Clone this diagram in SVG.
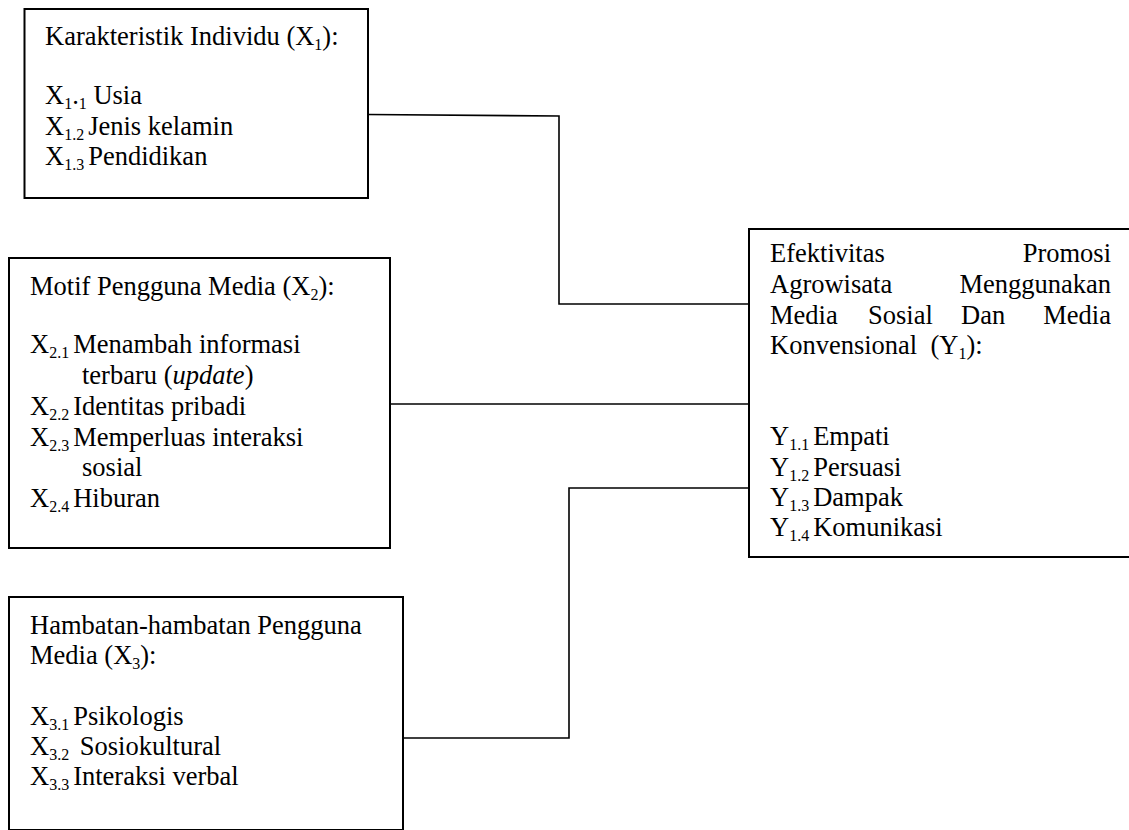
<svg xmlns="http://www.w3.org/2000/svg" width="1129" height="830" viewBox="0 0 1129 830">
<style>
.box{fill:#fff;stroke:#000;stroke-width:2}
.conn{fill:none;stroke:#000;stroke-width:1.6}
text{font-family:"Liberation Serif","Times New Roman",serif;font-size:26.5px;fill:#000}
.s{font-size:16px}
</style>
<rect width="1129" height="830" fill="#fff"/>
<g id="connectors">
<polyline class="conn" points="368,114.5 559,116 559,304 749,304"/>
<line class="conn" x1="390" y1="404" x2="749" y2="404"/>
<polyline class="conn" points="403,738 569,738 569,488 749,488"/>
</g>
<g id="x1">
<rect class="box" x="24.5" y="9" width="343.5" height="189"/>
<text x="45" y="45">Karakteristik Individu (X<tspan class="s" dy="5">1</tspan><tspan dy="-5">):</tspan></text>
<text x="45" y="104">X<tspan class="s" dy="5">1</tspan><tspan dy="-5">.</tspan><tspan class="s" dy="5">1</tspan><tspan dy="-5"> Usia</tspan></text>
<text x="45" y="135">X<tspan class="s" dy="5">1.2 </tspan><tspan dy="-5">Jenis kelamin</tspan></text>
<text x="45" y="165">X<tspan class="s" dy="5">1.3 </tspan><tspan dy="-5">Pendidikan</tspan></text>
</g>
<g id="x2">
<rect class="box" x="9" y="258" width="381" height="290"/>
<text x="30" y="295">Motif Pengguna Media (X<tspan class="s" dy="5">2</tspan><tspan dy="-5">):</tspan></text>
<text x="30" y="353">X<tspan class="s" dy="5">2.1 </tspan><tspan dy="-5">Menambah informasi</tspan></text>
<text x="82" y="384">terbaru (<tspan font-style="italic">update</tspan>)</text>
<text x="30" y="415">X<tspan class="s" dy="5">2.2 </tspan><tspan dy="-5">Identitas pribadi</tspan></text>
<text x="30" y="446">X<tspan class="s" dy="5">2.3 </tspan><tspan dy="-5">Memperluas interaksi</tspan></text>
<text x="82" y="476">sosial</text>
<text x="30" y="507">X<tspan class="s" dy="5">2.4 </tspan><tspan dy="-5">Hiburan</tspan></text>
</g>
<g id="x3">
<rect class="box" x="9" y="597" width="394" height="233"/>
<text x="30" y="634">Hambatan-hambatan Pengguna</text>
<text x="30" y="664">Media (X<tspan class="s" dy="5">3</tspan><tspan dy="-5">):</tspan></text>
<text x="30" y="725">X<tspan class="s" dy="5">3.1 </tspan><tspan dy="-5">Psikologis</tspan></text>
<text x="30" y="755">X<tspan class="s" dy="5">3.2 </tspan><tspan dy="-5">&#160;Sosiokultural</tspan></text>
<text x="30" y="785">X<tspan class="s" dy="5">3.3 </tspan><tspan dy="-5">Interaksi verbal</tspan></text>
</g>
<g id="y1">
<rect class="box" x="749" y="229" width="390" height="328"/>
<text x="770" y="262">Efektivitas</text>
<text x="1111" y="262" text-anchor="end">Promosi</text>
<text x="770" y="293">Agrowisata</text>
<text x="1111" y="293" text-anchor="end">Menggunakan</text>
<text x="770" y="324">Media</text>
<text x="868" y="324">Sosial</text>
<text x="961" y="324">Dan</text>
<text x="1111" y="324" text-anchor="end">Media</text>
<text x="770" y="354">Konvensional&#160; (Y<tspan class="s" dy="5">1</tspan><tspan dy="-5">):</tspan></text>
<text x="770" y="445">Y<tspan class="s" dy="5">1.1 </tspan><tspan dy="-5">Empati</tspan></text>
<text x="770" y="476">Y<tspan class="s" dy="5">1.2 </tspan><tspan dy="-5">Persuasi</tspan></text>
<text x="770" y="506">Y<tspan class="s" dy="5">1.3 </tspan><tspan dy="-5">Dampak</tspan></text>
<text x="770" y="536">Y<tspan class="s" dy="5">1.4 </tspan><tspan dy="-5">Komunikasi</tspan></text>
</g>
</svg>
